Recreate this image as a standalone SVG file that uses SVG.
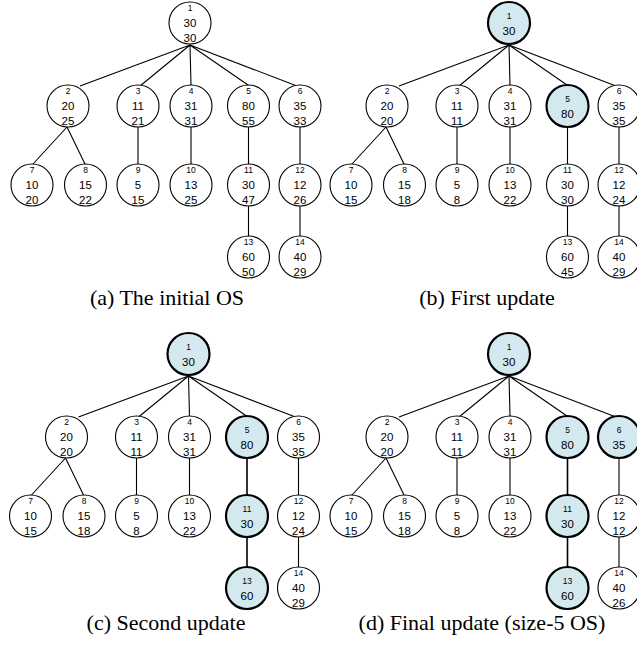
<svg xmlns="http://www.w3.org/2000/svg" width="637" height="649" viewBox="0 0 637 649">
<style>
.c{fill:#fff;stroke:#000;stroke-width:1.1}
.h{fill:#d3e9ef;stroke:#000;stroke-width:2.2}
.i{font-family:"Liberation Sans",Arial,sans-serif;font-size:8.5px;text-anchor:middle;fill:#000}
.v{font-family:"Liberation Sans",Arial,sans-serif;font-size:11.5px;text-anchor:middle;fill:#000}
.e{stroke:#000;stroke-width:1.1;fill:none}
.eh{stroke:#000;stroke-width:1.6;fill:none}
.cap{font-family:"Liberation Serif","Times New Roman",serif;font-size:22px;text-anchor:middle;fill:#000}
</style>
<rect width="637" height="649" fill="#fff"/>
<!-- Panel A -->
<g id="panel-a">
<g id="a-edges">
<path class="e" d="M190 45L80 86M190 45L140 86M190 45L191 85M190 45L248 85M190 45L297 86M67 127L33 164M67 127L85 164M138 127V164M191 127V164M248.5 127V164M300 127V164M248.5 206V236M300 206V236"/>
</g>
<g id="a-n1" transform="translate(190,23)"><circle class="c" r="21"/><text class="i" y="-12">1</text><text class="v" y="4">30</text><text class="v" y="18.5">30</text></g>
<g id="a-n2" transform="translate(68,106)"><circle class="c" r="21"/><text class="i" y="-12">2</text><text class="v" y="4">20</text><text class="v" y="18.5">25</text></g>
<g id="a-n3" transform="translate(138,106)"><circle class="c" r="21"/><text class="i" y="-12">3</text><text class="v" y="4">11</text><text class="v" y="18.5">21</text></g>
<g id="a-n4" transform="translate(191,106)"><circle class="c" r="21"/><text class="i" y="-12">4</text><text class="v" y="4">31</text><text class="v" y="18.5">31</text></g>
<g id="a-n5" transform="translate(248.5,106)"><circle class="c" r="21"/><text class="i" y="-12">5</text><text class="v" y="4">80</text><text class="v" y="18.5">55</text></g>
<g id="a-n6" transform="translate(300,106)"><circle class="c" r="21"/><text class="i" y="-12">6</text><text class="v" y="4">35</text><text class="v" y="18.5">33</text></g>
<g id="a-n7" transform="translate(32,185)"><circle class="c" r="21"/><text class="i" y="-12">7</text><text class="v" y="4">10</text><text class="v" y="18.5">20</text></g>
<g id="a-n8" transform="translate(85.5,185)"><circle class="c" r="21"/><text class="i" y="-12">8</text><text class="v" y="4">15</text><text class="v" y="18.5">22</text></g>
<g id="a-n9" transform="translate(138,185)"><circle class="c" r="21"/><text class="i" y="-12">9</text><text class="v" y="4">5</text><text class="v" y="18.5">15</text></g>
<g id="a-n10" transform="translate(191,185)"><circle class="c" r="21"/><text class="i" y="-12">10</text><text class="v" y="4">13</text><text class="v" y="18.5">25</text></g>
<g id="a-n11" transform="translate(248.5,185)"><circle class="c" r="21"/><text class="i" y="-12">11</text><text class="v" y="4">30</text><text class="v" y="18.5">47</text></g>
<g id="a-n12" transform="translate(300,185)"><circle class="c" r="21"/><text class="i" y="-12">12</text><text class="v" y="4">12</text><text class="v" y="18.5">26</text></g>
<g id="a-n13" transform="translate(248.5,257)"><circle class="c" r="21"/><text class="i" y="-12">13</text><text class="v" y="4">60</text><text class="v" y="18.5">50</text></g>
<g id="a-n14" transform="translate(300,257)"><circle class="c" r="21"/><text class="i" y="-12">14</text><text class="v" y="4">40</text><text class="v" y="18.5">29</text></g>
</g>
<!-- Panel B -->
<g id="panel-b" transform="translate(319,0)">
<g id="b-edges">
<path class="e" d="M190 45L80 86M190 45L140 86M190 45L191 85M190 45L248 85M190 45L297 86M67 127L33 164M67 127L85 164M138 127V164M191 127V164M248.5 127V164M300 127V164M248.5 206V236M300 206V236"/>
</g>
<g id="b-n1" transform="translate(190,23)"><circle class="h" r="21"/><text class="i" y="-4">1</text><text class="v" y="11.5">30</text></g>
<g id="b-n2" transform="translate(68,106)"><circle class="c" r="21"/><text class="i" y="-12">2</text><text class="v" y="4">20</text><text class="v" y="18.5">20</text></g>
<g id="b-n3" transform="translate(138,106)"><circle class="c" r="21"/><text class="i" y="-12">3</text><text class="v" y="4">11</text><text class="v" y="18.5">11</text></g>
<g id="b-n4" transform="translate(191,106)"><circle class="c" r="21"/><text class="i" y="-12">4</text><text class="v" y="4">31</text><text class="v" y="18.5">31</text></g>
<g id="b-n5" transform="translate(248.5,106)"><circle class="h" r="21"/><text class="i" y="-4">5</text><text class="v" y="11.5">80</text></g>
<g id="b-n6" transform="translate(300,106)"><circle class="c" r="21"/><text class="i" y="-12">6</text><text class="v" y="4">35</text><text class="v" y="18.5">35</text></g>
<g id="b-n7" transform="translate(32,185)"><circle class="c" r="21"/><text class="i" y="-12">7</text><text class="v" y="4">10</text><text class="v" y="18.5">15</text></g>
<g id="b-n8" transform="translate(85.5,185)"><circle class="c" r="21"/><text class="i" y="-12">8</text><text class="v" y="4">15</text><text class="v" y="18.5">18</text></g>
<g id="b-n9" transform="translate(138,185)"><circle class="c" r="21"/><text class="i" y="-12">9</text><text class="v" y="4">5</text><text class="v" y="18.5">8</text></g>
<g id="b-n10" transform="translate(191,185)"><circle class="c" r="21"/><text class="i" y="-12">10</text><text class="v" y="4">13</text><text class="v" y="18.5">22</text></g>
<g id="b-n11" transform="translate(248.5,185)"><circle class="c" r="21"/><text class="i" y="-12">11</text><text class="v" y="4">30</text><text class="v" y="18.5">30</text></g>
<g id="b-n12" transform="translate(300,185)"><circle class="c" r="21"/><text class="i" y="-12">12</text><text class="v" y="4">12</text><text class="v" y="18.5">24</text></g>
<g id="b-n13" transform="translate(248.5,257)"><circle class="c" r="21"/><text class="i" y="-12">13</text><text class="v" y="4">60</text><text class="v" y="18.5">45</text></g>
<g id="b-n14" transform="translate(300,257)"><circle class="c" r="21"/><text class="i" y="-12">14</text><text class="v" y="4">40</text><text class="v" y="18.5">29</text></g>
</g>
<!-- Panel C -->
<g id="panel-c" transform="translate(-1.5,331)">
<g id="c-edges">
<path class="e" d="M190 45L80 86M190 45L140 86M190 45L191 85M190 45L248 85M190 45L297 86M67 127L33 164M67 127L85 164M138 127V164M191 127V164M300 127V164M300 206V236"/>
<path class="eh" d="M248.5 127V164M248.5 206V236"/>
</g>
<g id="c-n1" transform="translate(190,23)"><circle class="h" r="21"/><text class="i" y="-4">1</text><text class="v" y="11.5">30</text></g>
<g id="c-n2" transform="translate(68,106)"><circle class="c" r="21"/><text class="i" y="-12">2</text><text class="v" y="4">20</text><text class="v" y="18.5">20</text></g>
<g id="c-n3" transform="translate(138,106)"><circle class="c" r="21"/><text class="i" y="-12">3</text><text class="v" y="4">11</text><text class="v" y="18.5">11</text></g>
<g id="c-n4" transform="translate(191,106)"><circle class="c" r="21"/><text class="i" y="-12">4</text><text class="v" y="4">31</text><text class="v" y="18.5">31</text></g>
<g id="c-n5" transform="translate(248.5,106)"><circle class="h" r="21"/><text class="i" y="-4">5</text><text class="v" y="11.5">80</text></g>
<g id="c-n6" transform="translate(300,106)"><circle class="c" r="21"/><text class="i" y="-12">6</text><text class="v" y="4">35</text><text class="v" y="18.5">35</text></g>
<g id="c-n7" transform="translate(32,185)"><circle class="c" r="21"/><text class="i" y="-12">7</text><text class="v" y="4">10</text><text class="v" y="18.5">15</text></g>
<g id="c-n8" transform="translate(85.5,185)"><circle class="c" r="21"/><text class="i" y="-12">8</text><text class="v" y="4">15</text><text class="v" y="18.5">18</text></g>
<g id="c-n9" transform="translate(138,185)"><circle class="c" r="21"/><text class="i" y="-12">9</text><text class="v" y="4">5</text><text class="v" y="18.5">8</text></g>
<g id="c-n10" transform="translate(191,185)"><circle class="c" r="21"/><text class="i" y="-12">10</text><text class="v" y="4">13</text><text class="v" y="18.5">22</text></g>
<g id="c-n11" transform="translate(248.5,185)"><circle class="h" r="21"/><text class="i" y="-4">11</text><text class="v" y="11.5">30</text></g>
<g id="c-n12" transform="translate(300,185)"><circle class="c" r="21"/><text class="i" y="-12">12</text><text class="v" y="4">12</text><text class="v" y="18.5">24</text></g>
<g id="c-n13" transform="translate(248.5,257)"><circle class="h" r="21"/><text class="i" y="-4">13</text><text class="v" y="11.5">60</text></g>
<g id="c-n14" transform="translate(300,257)"><circle class="c" r="21"/><text class="i" y="-12">14</text><text class="v" y="4">40</text><text class="v" y="18.5">29</text></g>
</g>
<!-- Panel D -->
<g id="panel-d" transform="translate(319,331)">
<g id="d-edges">
<path class="e" d="M190 45L80 86M190 45L140 86M190 45L191 85M190 45L248 85M190 45L297 86M67 127L33 164M67 127L85 164M138 127V164M191 127V164M300 127V164M300 206V236"/>
<path class="eh" d="M248.5 127V164M248.5 206V236"/>
</g>
<g id="d-n1" transform="translate(190,23)"><circle class="h" r="21"/><text class="i" y="-4">1</text><text class="v" y="11.5">30</text></g>
<g id="d-n2" transform="translate(68,106)"><circle class="c" r="21"/><text class="i" y="-12">2</text><text class="v" y="4">20</text><text class="v" y="18.5">20</text></g>
<g id="d-n3" transform="translate(138,106)"><circle class="c" r="21"/><text class="i" y="-12">3</text><text class="v" y="4">11</text><text class="v" y="18.5">11</text></g>
<g id="d-n4" transform="translate(191,106)"><circle class="c" r="21"/><text class="i" y="-12">4</text><text class="v" y="4">31</text><text class="v" y="18.5">31</text></g>
<g id="d-n5" transform="translate(248.5,106)"><circle class="h" r="21"/><text class="i" y="-4">5</text><text class="v" y="11.5">80</text></g>
<g id="d-n6" transform="translate(300,106)"><circle class="h" r="21"/><text class="i" y="-4">6</text><text class="v" y="11.5">35</text></g>
<g id="d-n7" transform="translate(32,185)"><circle class="c" r="21"/><text class="i" y="-12">7</text><text class="v" y="4">10</text><text class="v" y="18.5">15</text></g>
<g id="d-n8" transform="translate(85.5,185)"><circle class="c" r="21"/><text class="i" y="-12">8</text><text class="v" y="4">15</text><text class="v" y="18.5">18</text></g>
<g id="d-n9" transform="translate(138,185)"><circle class="c" r="21"/><text class="i" y="-12">9</text><text class="v" y="4">5</text><text class="v" y="18.5">8</text></g>
<g id="d-n10" transform="translate(191,185)"><circle class="c" r="21"/><text class="i" y="-12">10</text><text class="v" y="4">13</text><text class="v" y="18.5">22</text></g>
<g id="d-n11" transform="translate(248.5,185)"><circle class="h" r="21"/><text class="i" y="-4">11</text><text class="v" y="11.5">30</text></g>
<g id="d-n12" transform="translate(300,185)"><circle class="c" r="21"/><text class="i" y="-12">12</text><text class="v" y="4">12</text><text class="v" y="18.5">12</text></g>
<g id="d-n13" transform="translate(248.5,257)"><circle class="h" r="21"/><text class="i" y="-4">13</text><text class="v" y="11.5">60</text></g>
<g id="d-n14" transform="translate(300,257)"><circle class="c" r="21"/><text class="i" y="-12">14</text><text class="v" y="4">40</text><text class="v" y="18.5">26</text></g>
</g>
<g id="captions">
<text class="cap" x="167" y="305">(a) The initial OS</text>
<text class="cap" x="487" y="305">(b) First update</text>
<text class="cap" x="166" y="630">(c) Second update</text>
<text class="cap" x="482" y="630">(d) Final update (size-5 OS)</text>
</g>
</svg>
